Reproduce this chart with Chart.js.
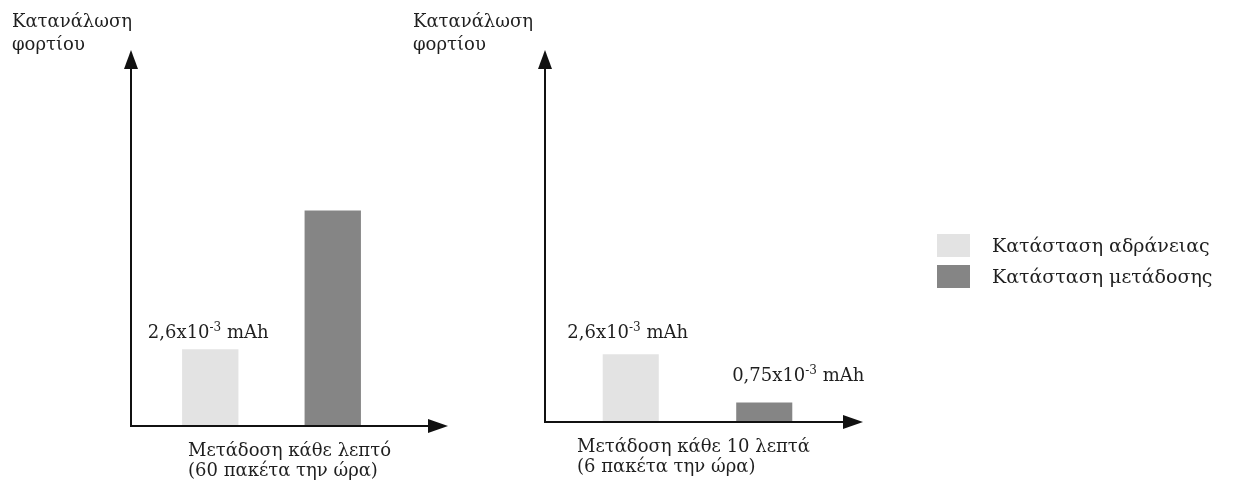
<!DOCTYPE html>
<html>
<head>
<meta charset="utf-8">
<script src="https://cdn.jsdelivr.net/npm/chart.js@4"></script>
<style>
  body { margin: 0; background: #fff; width: 1240px; height: 493px; overflow: hidden; position: relative; }
  .box { position: absolute; top: 0; height: 493px; }
  #left { left: 0; width: 480px; }
  #right { left: 400px; width: 840px; }
</style>
</head>
<body>
<div class="box" id="left"><canvas id="chartMinute"></canvas></div>
<div class="box" id="right"><canvas id="chartTen"></canvas></div>
<script>
// categories / legend
const states = ['Κατάσταση αδράνειας', 'Κατάσταση μετάδοσης'];
const stateColors = ['#e3e3e3', '#858585'];
const yCaption = ['Κατανάλωση', 'φορτίου'];

// left chart: transmit every minute
const minuteValues = [2.6, 7.3];
const minuteLabels = [['2,6x10', '-3', ' mAh'], null];
const minuteCaption = ['Μετάδοση κάθε λεπτό', '(60 πακέτα την ώρα)'];

// right chart: transmit every 10 minutes
const tenValues = [2.6, 0.75];
const tenLabels = [['2,6x10', '-3', ' mAh'], ['0,75x10', '-3', ' mAh']];
const tenCaption = ['Μετάδοση κάθε 10 λεπτά', '(6 πακέτα την ώρα)'];

const FONT = '"DejaVu Serif", "Liberation Serif", serif';
const INK = '#1f1f1f';

// draws arrows, captions, value labels and (optionally) the legend
const sketchPlugin = {
  id: 'sketch',
  afterDraw(chart, args, opts) {
    const ctx = chart.ctx;
    const area = chart.chartArea;
    const ax = area.left - opts.axisGap;
    const base = area.bottom;
    ctx.save();

    // axes
    ctx.strokeStyle = '#111';
    ctx.fillStyle = '#111';
    ctx.lineWidth = 2;
    ctx.beginPath();
    ctx.moveTo(ax, opts.yTip + 16);
    ctx.lineTo(ax, base);
    ctx.lineTo(opts.xTip - 16, base);
    ctx.stroke();
    ctx.beginPath();
    ctx.moveTo(ax, opts.yTip);
    ctx.lineTo(ax - 7, opts.yTip + 19);
    ctx.lineTo(ax + 7, opts.yTip + 19);
    ctx.closePath();
    ctx.fill();
    ctx.beginPath();
    ctx.moveTo(opts.xTip, base);
    ctx.lineTo(opts.xTip - 20, base - 7);
    ctx.lineTo(opts.xTip - 20, base + 7);
    ctx.closePath();
    ctx.fill();

    ctx.fillStyle = INK;
    ctx.textBaseline = 'alphabetic';
    ctx.textAlign = 'left';
    ctx.font = '18px ' + FONT;

    // y caption
    opts.yCaption.forEach((t, i) => ctx.fillText(t, ax - opts.captionDx, 27 + i * 23));
    // x caption
    opts.xCaption.forEach((t, i) => ctx.fillText(t, opts.xCaptionX, base + 30 + i * 20));

    // value labels with superscript exponent
    const meta = chart.getDatasetMeta(0);
    opts.valueLabels.forEach((parts, i) => {
      if (!parts) return;
      const bar = meta.data[i];
      const shift = opts.labelShift[i];
      ctx.font = '18px ' + FONT;
      const w1 = ctx.measureText(parts[0]).width;
      const w3 = ctx.measureText(parts[2]).width;
      ctx.font = '12px ' + FONT;
      const w2 = ctx.measureText(parts[1]).width;
      let x = bar.x + shift[0] - (w1 + w2 + w3) / 2;
      const y = bar.y + shift[1];
      ctx.font = '18px ' + FONT;
      ctx.fillText(parts[0], x, y);
      x += w1;
      ctx.font = '12px ' + FONT;
      ctx.fillText(parts[1], x, y - 7);
      x += w2;
      ctx.font = '18px ' + FONT;
      ctx.fillText(parts[2], x, y);
    });

    // legend
    if (opts.legend) {
      const lg = opts.legend;
      chart.data.labels.forEach((label, i) => {
        const y = lg.y + i * 31;
        ctx.fillStyle = chart.data.datasets[0].backgroundColor[i];
        ctx.fillRect(lg.x, y, 33, 23);
        ctx.fillStyle = INK;
        ctx.font = '19px ' + FONT;
        ctx.fillText(label, lg.x + 55, y + 18);
      });
    }
    ctx.restore();
  }
};

function makeChart(id, values, labels, caption, cfg) {
  return new Chart(document.getElementById(id), {
    type: 'bar',
    data: {
      labels: states,
      datasets: [{
        data: values,
        backgroundColor: stateColors,
        borderWidth: 0,
        barPercentage: cfg.barPct,
        categoryPercentage: 1
      }]
    },
    options: {
      responsive: true,
      maintainAspectRatio: false,
      animation: false,
      layout: { padding: cfg.padding },
      scales: {
        x: { display: false },
        y: { display: false, min: 0, max: cfg.yMax }
      },
      plugins: {
        legend: { display: false },
        tooltip: { enabled: false },
        sketch: {
          axisGap: cfg.axisGap,
          yTip: 50,
          xTip: cfg.xTip,
          captionDx: cfg.captionDx,
          yCaption: yCaption,
          xCaption: caption,
          xCaptionX: cfg.xCaptionX,
          valueLabels: labels,
          labelShift: cfg.labelShift,
          legend: cfg.legend || null
        }
      }
    },
    plugins: [sketchPlugin]
  });
}

makeChart('chartMinute', minuteValues, minuteLabels, minuteCaption, {
  padding: { left: 149, right: 86, top: 60, bottom: 67 },
  yMax: 12.4, barPct: 0.46, axisGap: 18, xTip: 448, captionDx: 119, xCaptionX: 188,
  labelShift: [[-2, -11], [0, -11]]
});

makeChart('chartTen', tenValues, tenLabels, tenCaption, {
  padding: { left: 164, right: 409, top: 60, bottom: 71 },
  yMax: 13.9, barPct: 0.42, axisGap: 19, xTip: 463, captionDx: 132, xCaptionX: 177,
  labelShift: [[-3, -16], [34, -21]],
  legend: { x: 537, y: 234 }
});
</script>
</body>
</html>
